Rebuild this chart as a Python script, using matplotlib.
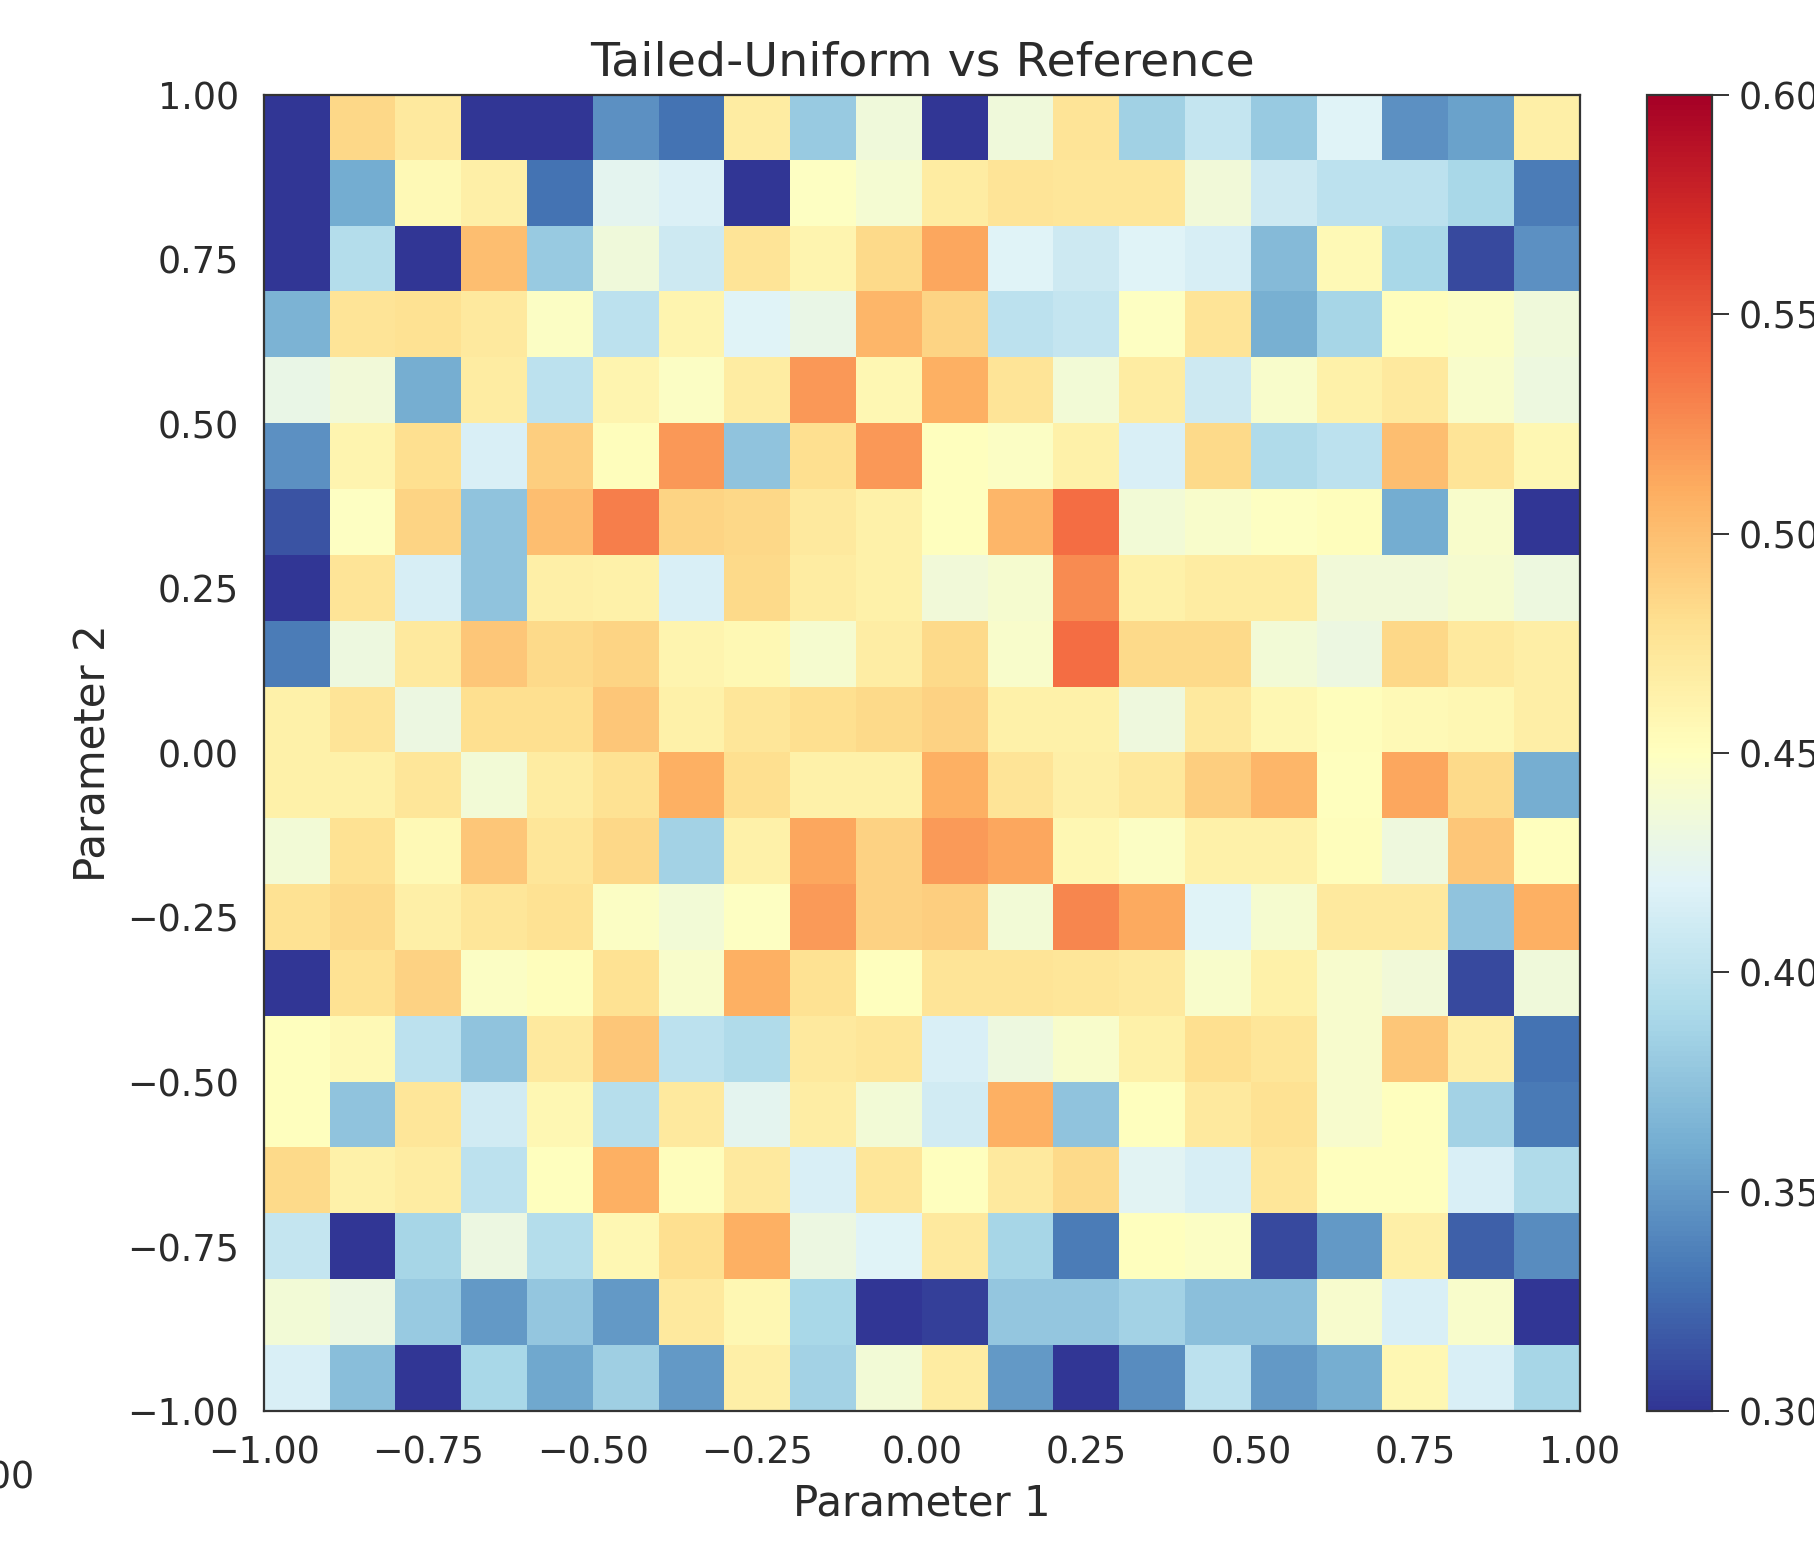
# System Modules
import matplotlib
matplotlib.use("Agg")
import matplotlib.pyplot as plt
import numpy             as np

##===============================================================================
# Data (rows from Parameter 2 = 1.00 down to -1.00)
title      = "Tailed-Uniform vs Reference"
xlabel     = "Parameter 1"
ylabel     = "Parameter 2"
param_lo   = -1.0
param_hi   = 1.0
vmin, vmax = 0.30, 0.60
axis_ticks = [-1.00, -0.75, -0.50, -0.25, 0.00, 0.25, 0.50, 0.75, 1.00]
cbar_ticks = [0.30, 0.35, 0.40, 0.45, 0.50, 0.55, 0.60]

row_00 = [0.29, 0.485, 0.47, 0.30, 0.29, 0.345, 0.33, 0.468, 0.38, 0.435, 0.29, 0.435, 0.475, 0.385, 0.405, 0.38, 0.42, 0.345, 0.355, 0.465]
row_01 = [0.29, 0.36, 0.455, 0.465, 0.33, 0.425, 0.418, 0.29, 0.448, 0.44, 0.468, 0.475, 0.474, 0.474, 0.437, 0.41, 0.40, 0.40, 0.39, 0.335]
row_02 = [0.29, 0.395, 0.29, 0.50, 0.38, 0.435, 0.41, 0.475, 0.46, 0.483, 0.513, 0.42, 0.41, 0.42, 0.415, 0.37, 0.455, 0.39, 0.31, 0.345]
row_03 = [0.365, 0.475, 0.478, 0.47, 0.447, 0.40, 0.46, 0.42, 0.43, 0.505, 0.487, 0.40, 0.405, 0.448, 0.475, 0.363, 0.388, 0.452, 0.447, 0.435]
row_04 = [0.43, 0.437, 0.362, 0.468, 0.40, 0.46, 0.447, 0.468, 0.52, 0.458, 0.508, 0.475, 0.438, 0.468, 0.41, 0.443, 0.463, 0.47, 0.443, 0.433]
row_05 = [0.345, 0.46, 0.48, 0.417, 0.49, 0.452, 0.52, 0.375, 0.48, 0.52, 0.45, 0.447, 0.463, 0.417, 0.483, 0.393, 0.40, 0.50, 0.475, 0.458]
row_06 = [0.315, 0.448, 0.487, 0.375, 0.50, 0.532, 0.487, 0.485, 0.47, 0.463, 0.45, 0.505, 0.54, 0.438, 0.443, 0.448, 0.452, 0.36, 0.443, 0.29]
row_07 = [0.29, 0.475, 0.415, 0.376, 0.465, 0.463, 0.417, 0.483, 0.468, 0.463, 0.437, 0.441, 0.526, 0.463, 0.468, 0.468, 0.437, 0.437, 0.441, 0.433]
row_08 = [0.335, 0.433, 0.47, 0.495, 0.483, 0.487, 0.46, 0.457, 0.441, 0.467, 0.483, 0.443, 0.54, 0.483, 0.483, 0.438, 0.432, 0.485, 0.47, 0.466]
row_09 = [0.463, 0.475, 0.432, 0.48, 0.48, 0.495, 0.463, 0.474, 0.48, 0.483, 0.488, 0.463, 0.463, 0.434, 0.47, 0.458, 0.452, 0.455, 0.458, 0.466]
row_10 = [0.463, 0.463, 0.474, 0.438, 0.468, 0.478, 0.508, 0.48, 0.463, 0.463, 0.508, 0.475, 0.465, 0.472, 0.49, 0.505, 0.45, 0.513, 0.483, 0.362]
row_11 = [0.438, 0.478, 0.455, 0.495, 0.474, 0.485, 0.386, 0.463, 0.513, 0.488, 0.518, 0.513, 0.458, 0.447, 0.463, 0.463, 0.452, 0.434, 0.495, 0.451]
row_12 = [0.478, 0.483, 0.465, 0.474, 0.478, 0.447, 0.438, 0.448, 0.518, 0.488, 0.49, 0.438, 0.528, 0.512, 0.42, 0.441, 0.47, 0.47, 0.376, 0.508]
row_13 = [0.29, 0.478, 0.488, 0.447, 0.452, 0.478, 0.443, 0.508, 0.478, 0.451, 0.475, 0.475, 0.474, 0.47, 0.443, 0.463, 0.442, 0.437, 0.31, 0.435]
row_14 = [0.45, 0.455, 0.40, 0.375, 0.47, 0.495, 0.40, 0.393, 0.47, 0.474, 0.417, 0.433, 0.444, 0.463, 0.48, 0.474, 0.442, 0.495, 0.466, 0.33]
row_15 = [0.45, 0.375, 0.474, 0.412, 0.458, 0.397, 0.47, 0.425, 0.467, 0.438, 0.412, 0.508, 0.376, 0.45, 0.47, 0.478, 0.442, 0.451, 0.386, 0.333]
row_16 = [0.483, 0.463, 0.468, 0.40, 0.451, 0.508, 0.452, 0.47, 0.417, 0.474, 0.45, 0.47, 0.483, 0.423, 0.415, 0.474, 0.45, 0.451, 0.417, 0.393]
row_17 = [0.405, 0.29, 0.388, 0.432, 0.395, 0.458, 0.48, 0.508, 0.432, 0.42, 0.47, 0.388, 0.335, 0.451, 0.447, 0.31, 0.35, 0.465, 0.32, 0.343]
row_18 = [0.438, 0.432, 0.38, 0.35, 0.378, 0.35, 0.47, 0.458, 0.39, 0.29, 0.305, 0.378, 0.378, 0.386, 0.373, 0.373, 0.442, 0.417, 0.443, 0.29]
row_19 = [0.417, 0.372, 0.29, 0.39, 0.358, 0.384, 0.35, 0.465, 0.386, 0.438, 0.468, 0.35, 0.29, 0.343, 0.40, 0.35, 0.362, 0.458, 0.417, 0.388]

##-----------------------------------------------------------------------
# Helpers
def fmt(v):
    return ("%.2f" % v).replace("-", "\u2212")

##-----------------------------------------------------------------------
# Plot
grid = np.array([row_00, row_01, row_02, row_03, row_04, row_05, row_06, row_07, row_08, row_09,
                 row_10, row_11, row_12, row_13, row_14, row_15, row_16, row_17, row_18, row_19])

W, H = 1815, 1549
text_color = "#2b2b2b"
plt.rcParams["font.family"] = "DejaVu Sans"
plt.rcParams["text.color"]  = text_color

fig = plt.figure(figsize=(W/100, H/100), dpi=100)
fig.patch.set_facecolor("white")

# Axes placement (pixels from the reference)
ax  = fig.add_axes([264/W, (H-1411)/H, 1316/W, 1316/H])
cax = fig.add_axes([1647/W, (H-1411)/H, 65/W, 1316/H])

im = ax.imshow(grid, cmap="RdYlBu_r", vmin=vmin, vmax=vmax, origin="upper",
               extent=[param_lo, param_hi, param_lo, param_hi], aspect="auto",
               interpolation="nearest")

ax.set_xlim(param_lo, param_hi)
ax.set_ylim(param_lo, param_hi)
ax.set_xticks(axis_ticks)
ax.set_yticks(axis_ticks)
ax.set_xticklabels([fmt(v) for v in axis_ticks])
ax.set_yticklabels([fmt(v) for v in axis_ticks])
ax.tick_params(length=0, labelsize=26.3, labelcolor=text_color)
ax.tick_params(axis="x", pad=17)
ax.tick_params(axis="y", pad=18)
for s in ax.spines.values():
    s.set_color("#333333")
    s.set_linewidth(1.6)

ax.set_title(title, fontsize=34.2, color=text_color, pad=14)
ax.set_xlabel(xlabel, fontsize=30.2, color=text_color, labelpad=8)
ax.set_ylabel(ylabel, fontsize=30.2, color=text_color, labelpad=9)

cb = fig.colorbar(im, cax=cax, ticks=cbar_ticks)
cb.ax.set_yticklabels([fmt(v) for v in cbar_ticks])
cb.ax.tick_params(length=12, width=1.4, pad=7, labelsize=26.3, labelcolor=text_color, color="#333333")
cb.outline.set_edgecolor("#333333")
cb.outline.set_linewidth(1.6)

# Cut-off tick label of the neighbouring panel at the left edge
fig.text(34/W, 1-1478/H, fmt(1.0), ha="right", va="center", fontsize=26.3, color=text_color)

fig.savefig("out.png", dpi=100, facecolor="white")
